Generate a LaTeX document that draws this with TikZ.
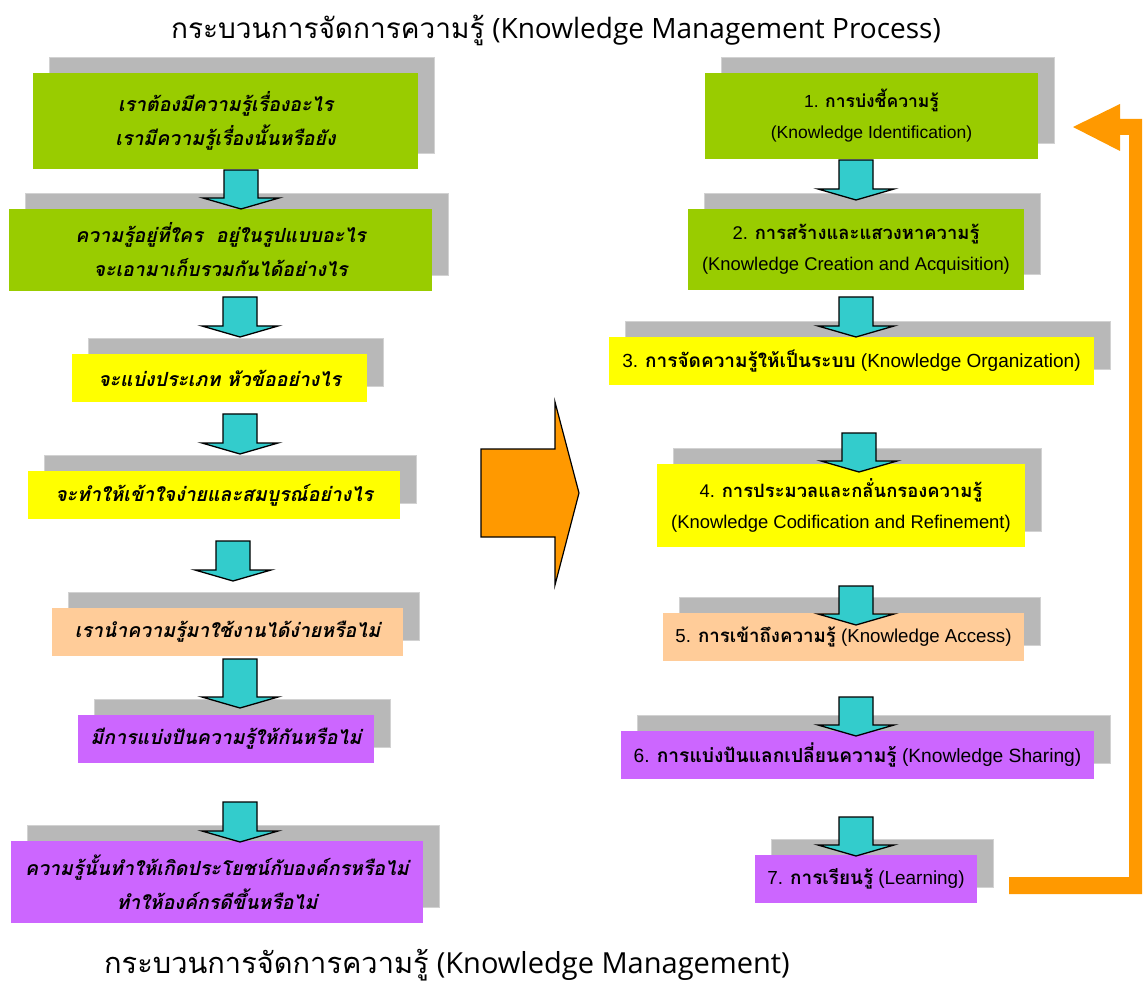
\documentclass[tikz,border=0pt]{standalone}
\usepackage{fontspec}
\setmainfont{Liberation Sans}
\newfontfamily\thfont[Script=Thai]{Loma}
\newfontfamily\ttlfont{Open Sans}
\definecolor{kgreen}{HTML}{99CC00}
\definecolor{kyellow}{HTML}{FFFF00}
\definecolor{kpeach}{HTML}{FFCC99}
\definecolor{kpurple}{HTML}{CC66FF}
\definecolor{kgray}{HTML}{B8B8B8}
\definecolor{kgrayline}{HTML}{D2D2D2}
\definecolor{kcyan}{HTML}{33CCCC}
\definecolor{korange}{HTML}{FF9900}
\newcommand\kleftfont{\thfont\bfseries\itshape\fontsize{19.5}{34}\selectfont}
\newcommand\kth[1]{{\thfont\bfseries #1}}
\tikzset{
  shadowbox/.style={fill=kgray, draw=kgrayline, line width=0.8pt},
  kbox/.style={inner sep=0pt, align=center, text=black},
  leftbox/.style={kbox, font=\kleftfont},
  rightbox/.style={kbox, font=\fontsize{#1}{31}\selectfont},
  karrow/.style={fill=kcyan, draw=black, line width=1.3pt, line join=miter},
  bigarrow/.style={fill=korange, draw=black, line width=1.2pt, line join=miter},
  returnarrow/.style={fill=korange},
  titletext/.style={inner sep=0pt, font=\fontsize{#1}{32}\selectfont}
}
% name, x1, y1, x2, y2, colour, style, text
\newcommand\kmbox[8]{%
  \path[shadowbox] (#2+16,#3-16) rectangle (#4+16,#5-16);
  \node[#7, fill=#6, minimum width={(#4-#2)*1pt}, minimum height={(#5-#3)*1pt}] (#1) at ({(#2+#4)/2},{(#3+#5)/2}) {#8};}
% name, x, ytop, ytip
\newcommand\kmarrow[4]{%
  \coordinate (#1) at (#2,#4);
  \draw[karrow] (#2-17,#3) -- (#2+17,#3) -- (#2+17,#4-11) -- (#2+38,#4-11) -- (#1) -- (#2-38,#4-11) -- (#2-17,#4-11) -- cycle;}
\begin{document}
\begin{tikzpicture}[x=1pt,y=-1pt]
\useasboundingbox (0,0) rectangle (1144,984);
% titles
\node[titletext=28] (title) at (556,30) {{\thfont กระบวนการจัดการความรู้} {\ttlfont (Knowledge Management Process)}};
\node[titletext=29] (subtitle) at (447,965) {{\thfont กระบวนการจัดการความรู้} {\ttlfont (Knowledge Management)}};
% left column
\kmbox{L1}{33}{73}{418}{169}{kgreen}{leftbox}{เราต้องมีความรู้เรื่องอะไร\\เรามีความรู้เรื่องนั้นหรือยัง}
\kmbox{L2}{9}{209}{432}{291}{kgreen}{leftbox}{ความรู้อยู่ที่ใคร~~อยู่ในรูปแบบอะไร\\จะเอามาเก็บรวมกันได้อย่างไร}
\kmbox{L3}{72}{354}{367}{402}{kyellow}{leftbox}{จะแบ่งประเภท หัวข้ออย่างไร}
\kmbox{L4}{28}{471}{400}{519}{kyellow}{leftbox}{จะทำให้เข้าใจง่ายและสมบูรณ์อย่างไร}
\kmbox{L5}{52}{608}{403}{656}{kpeach}{leftbox}{เรานำความรู้มาใช้งานได้ง่ายหรือไม่}
\kmbox{L6}{78}{715}{374}{763}{kpurple}{leftbox}{มีการแบ่งปันความรู้ให้กันหรือไม่}
\kmbox{L7}{11}{841}{423}{923}{kpurple}{leftbox}{ความรู้นั้นทำให้เกิดประโยชน์กับองค์กรหรือไม่\\ทำให้องค์กรดีขึ้นหรือไม่}
% right column
\kmbox{R1}{705}{73}{1038}{159}{kgreen}{rightbox=17.5}{1. \kth{การบ่งชี้ความรู้}\\(Knowledge Identification)}
\kmbox{R2}{688}{209}{1024}{290}{kgreen}{rightbox=18.4}{2. \kth{การสร้างและแสวงหาความรู้}\\(Knowledge Creation and Acquisition)}
\kmbox{R3}{609}{337}{1094}{385}{kyellow}{rightbox=19}{3. \kth{การจัดความรู้ให้เป็นระบบ} (Knowledge Organization)}
\kmbox{R4}{657}{464}{1025}{547}{kyellow}{rightbox=18.4}{4. \kth{การประมวลและกลั่นกรองความรู้}\\(Knowledge Codification and Refinement)}
\kmbox{R5}{663}{613}{1024}{661}{kpeach}{rightbox=18.7}{5. \kth{การเข้าถึงความรู้} (Knowledge Access)}
\kmbox{R6}{621}{731}{1094}{779}{kpurple}{rightbox=19.2}{6. \kth{การแบ่งปันแลกเปลี่ยนความรู้} (Knowledge Sharing)}
\kmbox{R7}{755}{855}{977}{903}{kpurple}{rightbox=18.9}{7. \kth{การเรียนรู้} (Learning)}
% left arrows
\kmarrow{la1}{241}{170}{209}
\kmarrow{la2}{240}{297}{337}
\kmarrow{la3}{240}{414}{454}
\kmarrow{la4}{233}{541}{581}
\kmarrow{la5}{240}{659}{708}
\kmarrow{la6}{240}{802}{842}
% right arrows
\kmarrow{ra1}{856}{160}{200}
\kmarrow{ra2}{856}{297}{337}
\kmarrow{ra3}{859}{433}{472}
\kmarrow{ra4}{856}{586}{625}
\kmarrow{ra5}{856}{697}{736}
\kmarrow{ra6}{856}{817}{856}
% big orange arrow
\coordinate (bigtip) at (579,493);
\draw[bigarrow] (481,449) -- (555,449) -- (555,402) -- (bigtip) -- (555,585) -- (555,537) -- (481,537) -- cycle;
% return arrow
\coordinate (rettip) at (1073,127);
\fill[returnarrow] (rettip) -- (1120,104) -- (1120,119) -- (1142,119) -- (1142,894) -- (1009,894) -- (1009,877) -- (1129,877) -- (1129,135) -- (1120,135) -- (1120,151) -- cycle;
\end{tikzpicture}
\end{document}
